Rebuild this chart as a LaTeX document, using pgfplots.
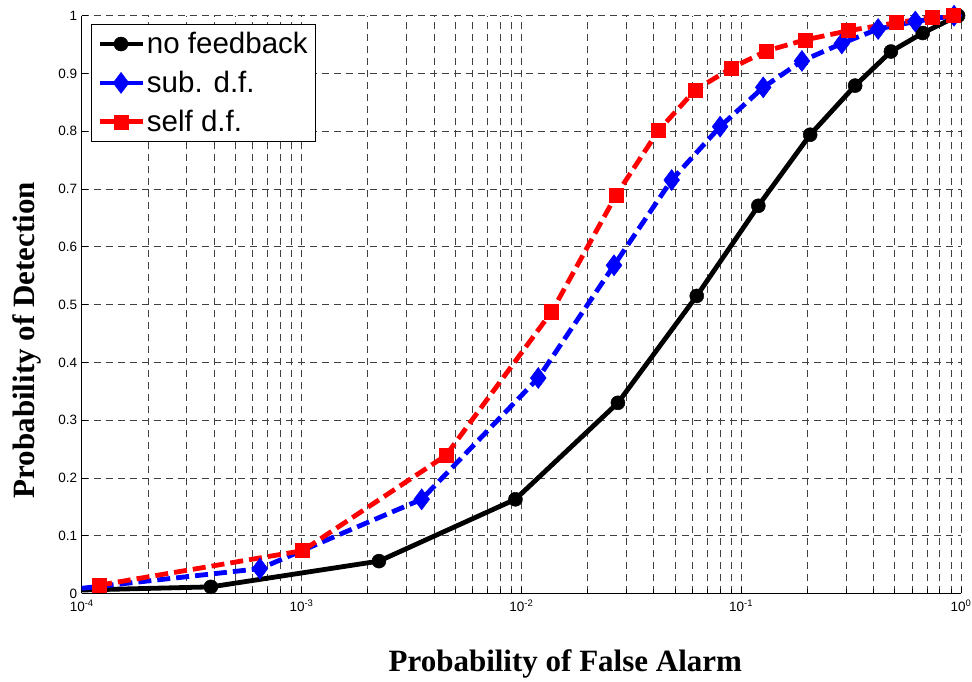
\documentclass[border=0pt]{standalone}
\usepackage{fontspec}
\setmainfont{Liberation Sans}
\newfontfamily\timesfont{Liberation Serif}
\usepackage{pgfplots}
\pgfplotsset{compat=1.18}
\usetikzlibrary{calc}
\begin{document}
\begin{tikzpicture}
\begin{axis}[
  name=main,
  scale only axis,
  width=879pt, height=577.6pt,
  xmode=log,
  xmin=1e-4, xmax=1,
  ymin=0, ymax=1,
  axis x line*=bottom, axis y line*=left,
  axis line style={-, line width=0.8pt, black},
  xtick={1e-4,1e-3,1e-2,1e-1,1},
  xticklabels={10\textsuperscript{-4},10\textsuperscript{-3},10\textsuperscript{-2},10\textsuperscript{-1},10\textsuperscript{0}},
  ytick={0,0.1,0.2,0.3,0.4,0.5,0.6,0.7,0.8,0.9,1},
  yticklabels={0,0.1,0.2,0.3,0.4,0.5,0.6,0.7,0.8,0.9,1},
  tick align=inside,
  major tick length=6pt, minor tick length=4pt,
  tick style={black, line width=0.7pt},
  ticklabel style={font=\fontsize{13.5}{15}\selectfont},
  xticklabel style={yshift=-3pt},
  yticklabel style={xshift=-1pt},
  /pgf/number format/assume math mode=true,
  grid=both,
  minor x tick num=8,
  minor y tick num=0,
  grid style={black!75, line width=0.7pt, dash pattern=on 7pt off 5pt},
  minor grid style={black!75, line width=0.7pt, dash pattern=on 7pt off 5pt},
  xlabel={\timesfont\bfseries Probability of False Alarm},
  ylabel={\timesfont\bfseries Probability of Detection},
  xlabel style={font=\fontsize{31}{34}\selectfont, at={(axis description cs:0.55,0)}, anchor=center, yshift=-70pt},
  ylabel style={font=\fontsize{31}{34}\selectfont, at={(axis description cs:-0.062,0.4385)}, anchor=center},
  legend style={at={(0,1)}, anchor=north west, xshift=9pt, yshift=-8pt,
    font=\fontsize{29.5}{31}\selectfont, draw=black, line width=0.8pt,
    row sep=12pt, inner xsep=6pt, inner ysep=6.5pt},
  legend cell align=left,
  legend image code/.code={\draw[solid, mark repeat=2, mark phase=2] plot coordinates {(0pt,0pt) (21.5pt,0pt) (43pt,0pt)};},
]
\addplot[black, line width=4.8pt, mark=*, mark size=7pt, mark phase=2, mark options={solid, line width=0.5pt}] coordinates {
(1e-4,0.006) (3.87e-4,0.0114) (2.25e-3,0.056) (9.4e-3,0.163) (0.0275,0.330) (0.0628,0.515) (0.1197,0.671) (0.206,0.794) (0.330,0.879) (0.48,0.938) (0.67,0.970) (0.97,1.0)
};
\addlegendentry{no feedback}
\addplot[blue, line width=4.8pt, dash pattern=on 13pt off 6pt, mark=diamond*, mark size=10.5pt, mark options={solid, line width=0.5pt}, mark phase=2] coordinates {
(1e-4,0.009) (6.47e-4,0.043) (3.52e-3,0.163) (0.01194,0.373) (0.0264,0.568) (0.0483,0.7156) (0.0802,0.808) (0.126,0.876) (0.189,0.9216) (0.287,0.952) (0.42,0.977) (0.62,0.990) (0.93,1.0)
};
\addlegendentry{sub. d.f.}
\addplot[red, line width=4.8pt, dash pattern=on 13pt off 6pt, mark=square*, mark size=7pt, mark options={solid, line width=0.5pt}] coordinates {
(1.2e-4,0.0144) (1.01e-3,0.074) (4.54e-3,0.239) (0.01374,0.4876) (0.027,0.6896) (0.042,0.801) (0.0617,0.871) (0.09,0.909) (0.13,0.939) (0.195,0.958) (0.307,0.974) (0.51,0.988) (0.74,0.997) (0.92,1.0)
};
\addlegendentry{self d.f.}
\end{axis}
\pgfresetboundingbox
\path[use as bounding box] ($(main.south west)+(-81.7pt,-87.7pt)$) rectangle ($(main.north east)+(11pt,15.7pt)$);
\end{tikzpicture}
\end{document}
